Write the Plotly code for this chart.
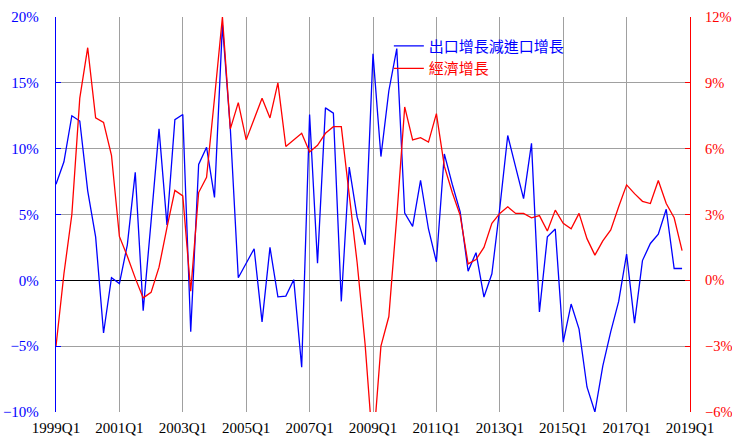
import plotly.graph_objects as go

# Quarterly data 1999Q1 .. 2018Q4
quarters = [f"{y}Q{q}" for y in range(1999, 2019) for q in range(1, 5)]

net_export_growth = [
    7.3, 9.0, 12.5, 12.1, 6.8, 3.3, -4.0, 0.2,
    -0.25, 2.7, 8.2, -2.3, 4.5, 11.5, 4.2, 12.2,
    12.6, -3.9, 8.8, 10.1, 6.3, 19.4, 11.5, 0.2,
    1.3, 2.4, -3.15, 2.5, -1.25, -1.2, 0.05, -6.6,
    12.6, 1.3, 13.1, 12.7, -1.6, 8.6, 4.8, 2.7,
    17.2, 9.4, 14.4, 17.6, 5.1, 4.1, 7.6, 3.9,
    1.4, 9.6, 7.3, 5.2, 0.7, 2.1, -1.27, 0.5,
    5.5, 11.0, 8.6, 6.2, 10.4, -2.4, 3.3, 3.9,
    -4.7, -1.8, -3.7, -8.1, -10.0, -6.5, -3.9, -1.6,
    2.0, -3.25, 1.5, 2.8, 3.5, 5.4, 0.9, 0.9,
]

gdp_growth = [
    -3.0, 0.3, 3.0, 8.3, 10.6, 7.4, 7.2, 5.7,
    2.0, 1.1, 0.1, -0.8, -0.55, 0.6, 2.4, 4.1,
    3.85, -0.5, 4.0, 4.7, 8.3, 12.0, 6.9, 8.1,
    6.4, 7.4, 8.3, 7.4, 9.0, 6.1, 6.4, 6.7,
    5.85, 6.15, 6.7, 7.0, 7.0, 4.0, 0.8, -2.9,
    -7.7, -3.0, -1.65, 2.9, 7.9, 6.4, 6.5, 6.3,
    7.6, 5.2, 4.0, 2.96, 0.75, 0.95, 1.5, 2.6,
    3.05, 3.35, 3.05, 3.05, 2.85, 2.95, 2.25, 3.2,
    2.6, 2.35, 3.05, 1.9, 1.15, 1.8, 2.3, 3.35,
    4.35, 3.95, 3.6, 3.5, 4.55, 3.5, 2.85, 1.35,
]

tick_labels = ["1999Q1", "2001Q1", "2003Q1", "2005Q1", "2007Q1",
               "2009Q1", "2011Q1", "2013Q1", "2015Q1", "2017Q1", "2019Q1"]

x_idx = list(range(len(quarters)))
tick_vals = [8 * k for k in range(len(tick_labels))]

fig = go.Figure()
fig.add_trace(go.Scatter(
    x=x_idx, y=net_export_growth, mode="lines",
    name="<span style='color:#0000FF'>出口增長減進口增長</span>",
    line=dict(color="#0000FF", width=1.3),
    customdata=quarters, yaxis="y",
))
fig.add_trace(go.Scatter(
    x=x_idx, y=gdp_growth, mode="lines",
    name="<span style='color:#FF0000'>經濟增長</span>",
    line=dict(color="#FF0000", width=1.3),
    customdata=quarters, yaxis="y2",
))

serif = "Liberation Serif, Times New Roman, serif"

# white box behind the legend that hides gridlines but not the data lines
fig.add_shape(type="rect", xref="paper", yref="paper",
              x0=0.545, x1=0.82, y0=0.84, y1=0.967,
              fillcolor="white", line=dict(width=0), layer="between")

fig.update_layout(
    width=732, height=439,
    margin=dict(l=56, r=42, t=17, b=27),
    paper_bgcolor="white", plot_bgcolor="white",
    showlegend=True,
    legend=dict(
        x=0.525, y=0.968, xanchor="left", yanchor="top",
        bgcolor="rgba(0,0,0,0)", borderwidth=0,
        font=dict(family="Noto Sans CJK TC", size=15),
        tracegroupgap=0,
    ),
    xaxis=dict(
        range=[0, 80], tickmode="array", tickvals=tick_vals, ticktext=tick_labels,
        showgrid=True, gridcolor="#A0A0A0", gridwidth=1,
        zeroline=False, showline=False, ticks="",
        tickfont=dict(family=serif, size=15, color="black"),
        ticklabelstandoff=5, automargin=False,
    ),
    yaxis=dict(
        range=[-10, 20], dtick=5, tick0=0, ticksuffix="%",
        showgrid=True, gridcolor="#A0A0A0", gridwidth=1,
        zeroline=True, zerolinecolor="black", zerolinewidth=1.3,
        showline=True, linecolor="#0000FF", linewidth=1.3,
        ticks="inside", ticklen=5, tickcolor="#0000FF",
        tickfont=dict(family=serif, size=15, color="#0000FF"),
        ticklabelstandoff=13, automargin=False,
    ),
    yaxis2=dict(
        range=[-6, 12], dtick=3, tick0=0, ticksuffix="%",
        overlaying="y", side="right",
        showgrid=False, zeroline=False,
        showline=True, linecolor="#FF0000", linewidth=1.3,
        ticks="inside", ticklen=5, tickcolor="#FF0000",
        tickfont=dict(family=serif, size=14.5, color="#FF0000"),
        ticklabelstandoff=11, automargin=False,
    ),
)

fig.write_html("out.html", config={"displayModeBar": False},
               post_script="document.body.style.margin='0';")
